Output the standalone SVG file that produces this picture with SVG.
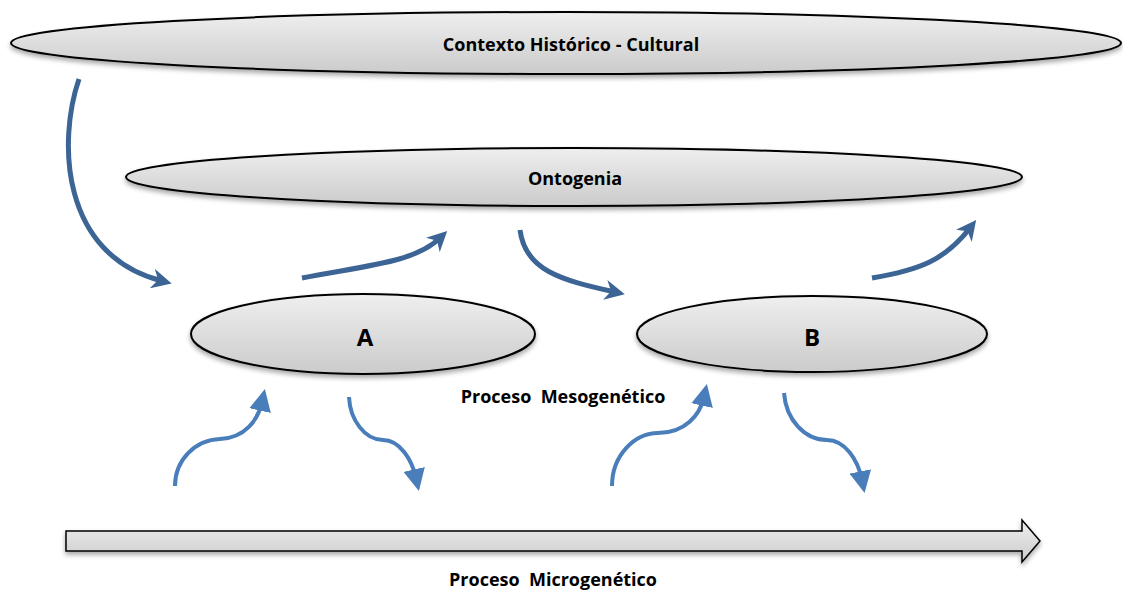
<svg xmlns="http://www.w3.org/2000/svg" width="1123" height="590" viewBox="0 0 1123 590">
<defs>
<linearGradient id="g" x1="0" y1="0" x2="0" y2="1">
<stop offset="0" stop-color="#efefef"/>
<stop offset="1" stop-color="#cbcbcb"/>
</linearGradient>
<filter id="sh" x="-5%" y="-20%" width="110%" height="160%">
<feGaussianBlur in="SourceAlpha" stdDeviation="2.5"/>
<feOffset dy="3" result="b"/>
<feComponentTransfer><feFuncA type="linear" slope="0.35"/></feComponentTransfer>
<feMerge><feMergeNode/><feMergeNode in="SourceGraphic"/></feMerge>
</filter>
<marker id="ad" viewBox="0 0 10 10" refX="5" refY="5" markerWidth="4" markerHeight="4" orient="auto" markerUnits="strokeWidth">
<path d="M0,0 L10,5 L0,10 L3,5 Z" fill="#3c6595"/>
</marker>
<marker id="al" viewBox="0 0 10 10" refX="4" refY="5" markerWidth="5.5" markerHeight="5.5" orient="auto" markerUnits="strokeWidth">
<path d="M0,0 L10,5 L0,10 Z" fill="#4a7ebb"/>
</marker>
</defs>
<style>
.node{fill:url(#g);stroke:#000;stroke-width:2;filter:url(#sh)}
.t{font-family:"Open Sans","Liberation Sans",sans-serif;font-weight:bold;font-size:18px;fill:#000;text-anchor:middle;white-space:pre}
.big{font-size:24px}
.dk{fill:none;stroke:#3c6595;stroke-width:5;marker-end:url(#ad)}
.lt{fill:none;stroke:#4a7ebb;stroke-width:4;marker-end:url(#al)}
</style>
<rect width="1123" height="590" fill="#fff"/>
<g id="contexto">
<ellipse class="node" cx="566" cy="43" rx="555" ry="31"/>
<text class="t" x="571" y="51">Contexto Histórico - Cultural</text>
</g>
<g id="ontogenia">
<ellipse class="node" cx="574" cy="177" rx="448" ry="29"/>
<text class="t" x="575" y="185">Ontogenia</text>
</g>
<g id="nodeA">
<ellipse class="node" cx="363" cy="334" rx="172" ry="40"/>
<text class="t big" x="365" y="346">A</text>
</g>
<g id="nodeB">
<ellipse class="node" cx="812" cy="334" rx="175" ry="38"/>
<text class="t big" x="812" y="346">B</text>
</g>
<g id="micro">
<path d="M66,531 H1022 V520 L1040,541 L1022,562 V551 H66 Z" fill="url(#g)" stroke="#000" stroke-width="1.5" filter="url(#sh)"/>
<text class="t" x="553" y="586" xml:space="preserve">Proceso  Microgenético</text>
</g>
<g id="meso">
<text class="t" x="563" y="403" xml:space="preserve">Proceso  Mesogenético</text>
</g>
<g id="connectors">
<path class="dk" d="M79,79 C58,140 60,255 162,281"/>
<path class="dk" d="M302,278 C370,265 415,262 440,238"/>
<path class="dk" d="M520,230 C525,270 560,280 615,292"/>
<path class="dk" d="M872,278 C920,270 945,260 970,228"/>
<path class="lt" d="M175,486 C175,460 195,440 220,439 C245,438 258,420 262,402"/>
<path class="lt" d="M349,397 C350,420 365,440 383,440 C400,440 412,460 416,478"/>
<path class="lt" d="M612,486 C612,455 635,433 658,433 C685,433 700,415 704,397"/>
<path class="lt" d="M784,393 C786,420 805,440 827,440 C845,440 858,460 862,480"/>
</g>
</svg>
